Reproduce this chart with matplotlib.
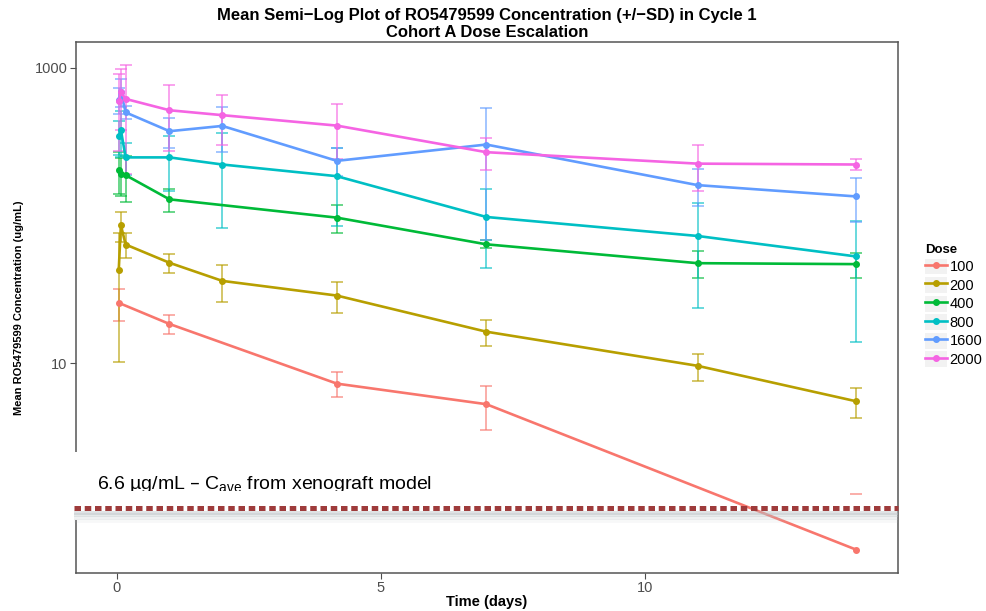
import numpy as np
import matplotlib.pyplot as plt
from matplotlib.ticker import FixedLocator, NullLocator, FuncFormatter
from matplotlib.transforms import Bbox, TransformedBbox
from matplotlib.patches import Rectangle, Patch
from matplotlib.legend_handler import HandlerTuple

plt.rcParams['font.family'] = ['Liberation Sans', 'DejaVu Sans']

# sampling times (days)
times = [0.04, 0.08, 0.17, 1, 2, 4.17, 7, 11, 14]
nan = np.nan

doses = ['100', '200', '400', '800', '1600', '2000']
colors = ['#F8766D', '#B79F00', '#00BA38', '#00BFC4', '#619CFF', '#F564E3']

# mean concentrations (ug/mL)
mean_100 = [25.7, nan, nan, 18.5, nan, 7.3, 5.3, nan, 0.55]
mean_200 = [43.2, 86.2, 63.8, 48.0, 36.2, 28.8, 16.4, 9.64, 5.55]
mean_400 = [205, 190, 188, 129, nan, 97, 64, 47.7, 47]
mean_800 = [347, 380, 248, 248, 222, 185, 98, 72.9, 53]
mean_1600 = [610, 690, 500, 373, 405, 235, 303, 161, 135]
mean_2000 = [596, 686, 617, 517, 479, 407, 269, 225, 222]

# standard deviations
sd_100 = [6.3, nan, nan, 2.7, nan, 1.4, 1.75, nan, 0.75]
sd_200 = [33, 20, 12, 7, 10, 7, 3.2, 2.0, 1.3]
sd_400 = [65, 55, 65, 23, nan, 21, 4, 9.8, 9]
sd_800 = [90, 130, 60, 100, 140, 100, 54, 49, 39]
sd_1600 = [120, 150, 50, 86, 137, 50, 235, 45, 44]
sd_2000 = [320, 305, 425, 245, 178, 167, 64, 78, 18]

means = [mean_100, mean_200, mean_400, mean_800, mean_1600, mean_2000]
sds = [sd_100, sd_200, sd_400, sd_800, sd_1600, sd_2000]

fig = plt.figure(figsize=(9.87, 6.11), dpi=100)
ax = fig.add_axes([0.077, 0.062, 0.833, 0.869])

t = np.array(times)
handles = []
for dose, col, m, s in zip(doses, colors, means, sds):
    m = np.array(m)
    s = np.array(s)
    ok = ~np.isnan(m)
    ln, = ax.plot(t[ok], m[ok], color=col, lw=1.9, marker='o', ms=4, zorder=3)
    lo = m - s
    full = ok & (lo > 0)
    ax.errorbar(t[full], m[full], yerr=s[full], fmt='none', ecolor=col, elinewidth=1.1,
                capsize=4.5, capthick=1.1, alpha=0.75, zorder=2)
    # lower bound below zero on a log axis: only the upper cap is left
    part = ok & (lo <= 0)
    ax.plot(t[part], (m + s)[part], ls='none', marker='_', ms=9, mew=1.1, color=col, alpha=0.75)
    handles.append((Patch(facecolor='#f2f2f2', edgecolor='none'), ln))

ax.set_yscale('log')
ax.set_xlim(-0.77, 14.8)
ax.set_ylim(0.381, 1494)
ax.xaxis.set_major_locator(FixedLocator([0, 5, 10]))
ax.yaxis.set_major_locator(FixedLocator([10, 1000]))
ax.yaxis.set_minor_locator(NullLocator())
ax.yaxis.set_major_formatter(FuncFormatter(lambda v, p: '%d' % v))
ax.tick_params(colors='#4d4d4d', labelsize=10.5, length=4, width=0.8, pad=2)
for sp in ax.spines.values():
    sp.set_color('#555555')
    sp.set_linewidth(1.1)

ax.set_xlabel('Time (days)', fontsize=10.5, fontweight='bold', labelpad=0)
ax.set_ylabel('Mean RO5479599 Concentration (ug/mL)', fontsize=8, fontweight='bold', labelpad=8)
ax.set_title('Mean Semi\u2212Log Plot of RO5479599 Concentration (+/\u2212SD) in Cycle 1\nCohort A Dose Escalation',
             fontsize=12, fontweight='bold', linespacing=1.1, pad=4)

leg = fig.legend(handles, doses, loc='center left', bbox_to_anchor=(0.931, 0.5), frameon=False,
                 title='Dose', fontsize=10.5, handlelength=1.5, handleheight=1.3, labelspacing=0.18,
                 handletextpad=0.2, borderaxespad=0,
                 handler_map={tuple: HandlerTuple(ndivide=1, pad=0)})
leg.get_title().set_fontweight('bold')
leg.get_title().set_fontsize(9.5)
leg._legend_box.align = 'left'

# pasted annotation: white box, text and dotted threshold line
ax.add_patch(Rectangle((-0.006, 0.10), 0.47, 0.128, transform=ax.transAxes, facecolor='white',
                       edgecolor='none', zorder=5, clip_on=False))
txt = ax.text(0.0255, 0.158, '6.6 \u00b5g/mL \u2013 C$_\\mathregular{ave}$ from xenograft model',
              transform=ax.transAxes, fontsize=14, va='baseline', ha='left', zorder=7)
txt.set_clip_box(TransformedBbox(Bbox([[-0.01, 0.154], [0.6, 0.4]]), ax.transAxes))
txt.set_clip_on(True)
# soft shadow under the dotted line
for dy, a in zip([0.114, 0.109, 0.104, 0.099], [0.45, 0.35, 0.22, 0.1]):
    ax.plot([-0.003, 1.0], [dy, dy], transform=ax.transAxes, color='#b8c0c4', alpha=a, lw=2.8,
            solid_capstyle='butt', zorder=6, clip_on=False)
ax.plot([-0.003, 1.0], [0.122, 0.122], transform=ax.transAxes, color='#9e3b3b', lw=3.6,
        dashes=(1.3, 0.75), zorder=6, clip_on=False)

fig.savefig('out.png', dpi=100)
